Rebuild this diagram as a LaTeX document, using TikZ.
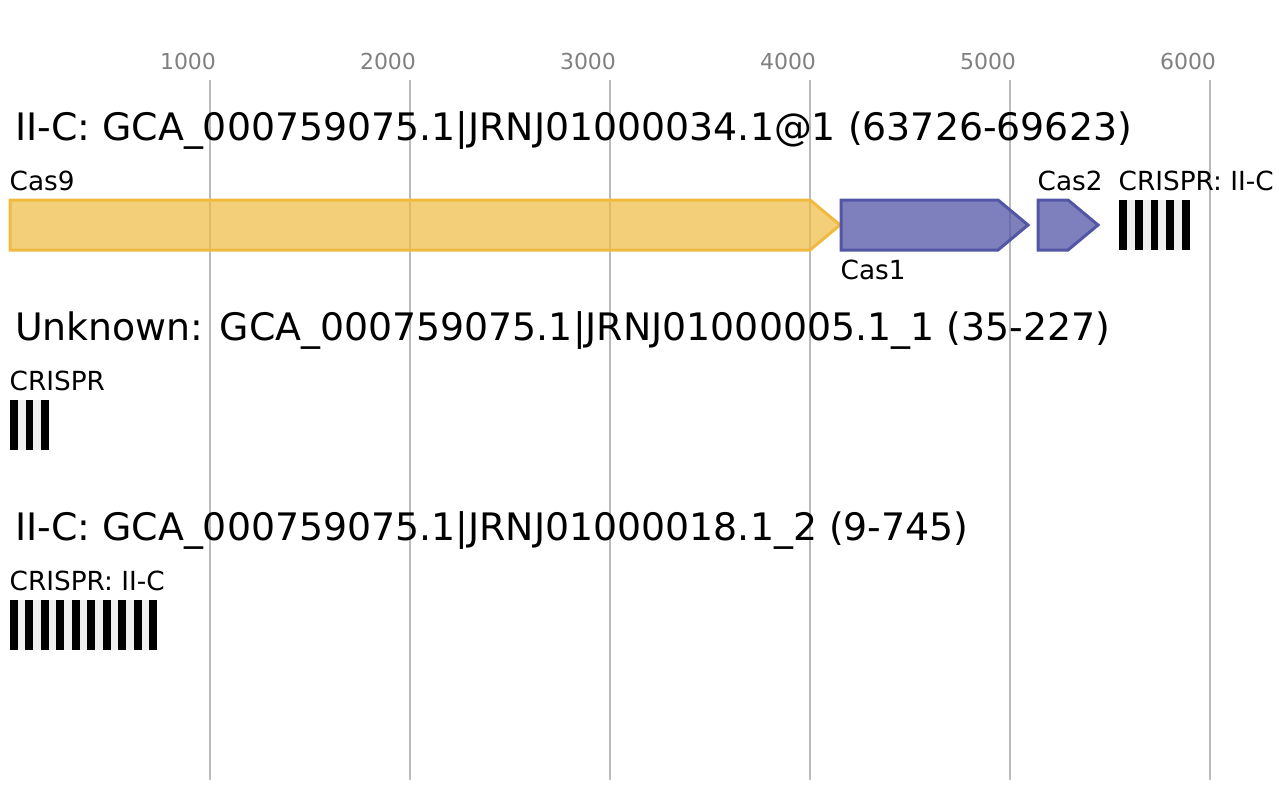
\documentclass[tikz,border=0pt]{standalone}
\usepackage{fontspec}
\setmainfont{DejaVu Sans}
\definecolor{gridgray}{HTML}{BBBBBB}
\definecolor{ticktext}{HTML}{808080}
\definecolor{casnine}{HTML}{F0BA40}
\definecolor{casone}{HTML}{5256A5}
\definecolor{spacer}{HTML}{F0F0F0}
\begin{document}
\begin{tikzpicture}[x=1pt,y=-1pt,
  gridline/.style={draw=gridgray,line width=2pt},
  ticklabel/.style={anchor=base,inner sep=0pt,text=ticktext,font=\fontsize{22}{26}\selectfont},
  title/.style={anchor=base west,inner sep=0pt,font=\fontsize{37.85}{44}\selectfont},
  genelabel/.style={anchor=base west,inner sep=0pt,font=\fontsize{26.3}{30}\selectfont},
  yellowgene/.style={draw=casnine,fill=casnine,fill opacity=0.7,line width=3pt,line join=miter},
  bluegene/.style={draw=casone,fill=casone,fill opacity=0.75,line width=3pt,line join=miter},
  repeatbar/.style={fill=black},
  spacerbg/.style={fill=spacer}]
\useasboundingbox (0,0) rectangle (1279,800);
% grid
\foreach \i in {1,...,6}{
  \coordinate (gt\i) at ({10+200*\i},80);
  \coordinate (gb\i) at ({10+200*\i},780);
  \draw[gridline] (gt\i) -- (gb\i);
  \node[ticklabel] (tick\i) at ({188+200*(\i-1)},70) {\i000};
}
% titles
\node[title] (t1) at (15,140) {II-C: GCA\_000759075.1|JRNJ01000034.1@1 (63726-69623)};
\node[title] (t2) at (15,340) {Unknown: GCA\_000759075.1|JRNJ01000005.1\_1 (35-227)};
\node[title] (t3) at (15,540) {II-C: GCA\_000759075.1|JRNJ01000018.1\_2 (9-745)};
% genes row 1
\path[yellowgene] (10,200) -- (810,200) -- (840,225) -- (810,250) -- (10,250) -- cycle;
\path[bluegene] (841,200) -- (998,200) -- (1028,225) -- (998,250) -- (841,250) -- cycle;
\path[bluegene] (1038,200) -- (1068,200) -- (1098,225) -- (1068,250) -- (1038,250) -- cycle;
\node[genelabel] (l9) at (9.5,190) {Cas9};
\node[genelabel] (l1) at (840.5,279) {Cas1};
\node[genelabel] (l2) at (1037.5,190) {Cas2};
\node[genelabel] (lc1) at (1118.5,190) {CRISPR: II-C};
% CRISPR arrays
\fill[spacerbg] (1119,200) rectangle (1190,250);
\foreach \k in {0,...,4}{\fill[repeatbar] ({1119+\k*2*71/9},200) rectangle ++({71/9},50);}
\node[genelabel] (lc2) at (9.5,390) {CRISPR};
\fill[spacerbg] (10,400) rectangle (49,450);
\foreach \k in {0,...,2}{\fill[repeatbar] ({10+\k*2*39/5},400) rectangle ++({39/5},50);}
\node[genelabel] (lc3) at (9.5,590) {CRISPR: II-C};
\fill[spacerbg] (10,600) rectangle (157,650);
\foreach \k in {0,...,9}{\fill[repeatbar] ({10+\k*2*147/19},600) rectangle ++({147/19},50);}
\end{tikzpicture}
\end{document}
